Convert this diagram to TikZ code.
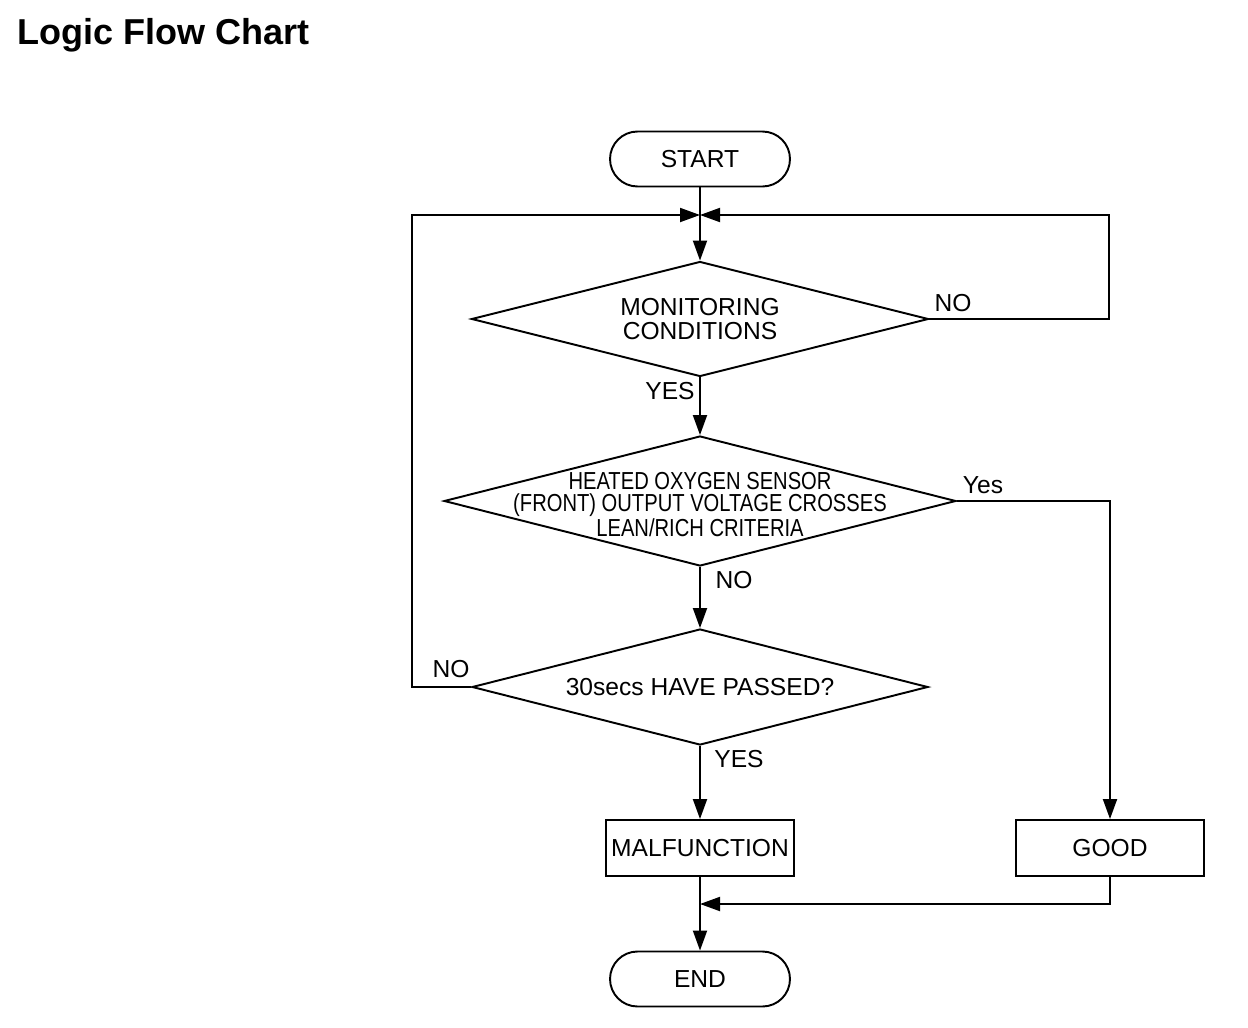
\documentclass[tikz,border=0pt]{standalone}
\usepackage{fontspec}
\setmainfont{Liberation Sans}
\newfontfamily\narrowfont[FakeStretch=0.82]{Liberation Sans}
\usetikzlibrary{arrows.meta,shapes.geometric}
\begin{document}
\begin{tikzpicture}[x=0.02cm,y=-0.02cm,
        font=\fontsize{14}{16.5}\selectfont,
        term/.style={draw, line width=1.1pt, rounded corners=0.55cm, minimum width=3.6cm, minimum height=1.1cm, inner sep=0pt},
        block/.style={draw, line width=1.1pt, minimum width=3.75cm, minimum height=1.12cm, inner sep=0pt},
        decision/.style={draw, line width=1.1pt, diamond, inner sep=0pt},
        line/.style={line width=1.1pt, -{Triangle[length=0.4cm,width=0.28cm]}}]
    \useasboundingbox (0,0) rectangle (1248,1028);
    \node[anchor=base west, inner sep=0pt, font=\fontsize{20.5}{22}\selectfont\bfseries] (title) at (17,44) {Logic Flow Chart};

    % boxes
    \node[term] (start) at (700,159) {START};
    \node[decision, minimum width=9.14cm, minimum height=2.3cm,
          label={[align=center, font=\fontsize{14}{13.6}\selectfont]center:MONITORING\\CONDITIONS}] (mon) at (700,319) {};
    \node[decision, minimum width=10.24cm, minimum height=2.6cm,
          label={[align=center, yshift=-2pt, font=\fontsize{14}{12.6}\selectfont\narrowfont]center:HEATED OXYGEN SENSOR\\(FRONT) OUTPUT VOLTAGE CROSSES\\LEAN/RICH CRITERIA}] (sensor) at (700,501) {};
    \node[decision, minimum width=9.12cm, minimum height=2.32cm,
          label={center:30secs HAVE PASSED?}] (timer) at (700,687) {};
    \node[block] (fault) at (700,848) {MALFUNCTION};
    \node[block] (good) at (1110,848) {GOOD};
    \node[term] (end) at (700,979) {END};

    \coordinate (join) at (700,215);
    \coordinate (merge) at (700,904);

    % main path
    \draw[line] (start) -- (mon.north);
    \draw[line] (mon.south) -- (sensor.north);
    \draw[line] (sensor.south) -- (timer.north);
    \draw[line] (timer.south) -- (fault.north);
    \draw[line] (fault.south) -- (end.north);

    % loops
    \draw[line] (mon.east) -- ++(180,0) |- (join);
    \draw[line] (timer.west) -- ++(-59,0) |- (join);
    \draw[line] (sensor.east) -| (good.north);
    \draw[line] (good.south) |- (merge);

    % branch labels
    \node (monNo) at (953,303) {NO};
    \node (monYes) at (670,391) {YES};
    \node (sensorYes) at (983,485) {Yes};
    \node (sensorNo) at (734,580) {NO};
    \node (timerNo) at (451,669) {NO};
    \node (timerYes) at (739,759) {YES};
\end{tikzpicture}
\end{document}
